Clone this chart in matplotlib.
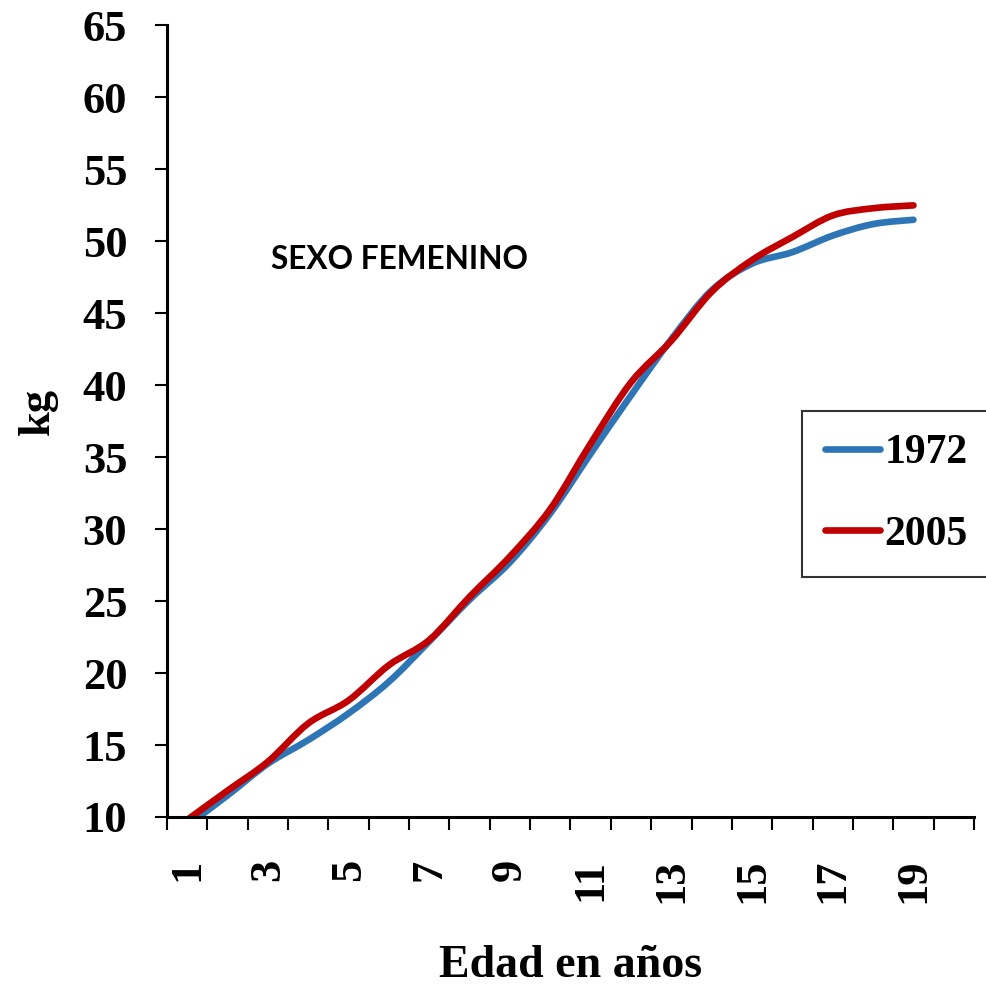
import numpy as np
import matplotlib
matplotlib.use("Agg")
import matplotlib.pyplot as plt
from matplotlib.path import Path
from matplotlib.patches import PathPatch
from matplotlib.lines import Line2D

# datos: peso promedio (kg) por edad, sexo femenino
edades = list(range(1, 20))
categorias = list(range(1, 21))
peso_1972 = [9.4, 11.5, 13.7, 15.35, 17.2, 19.4, 22.2, 25.1, 27.7, 31.1,
             35.25, 39.3, 43.2, 46.6, 48.45, 49.25, 50.4, 51.2, 51.5]
peso_2005 = [9.8, 11.83, 13.84, 16.5, 18.1, 20.55, 22.3, 25.3, 28.1, 31.4,
             35.95, 40.2, 43.1, 46.5, 48.7, 50.3, 51.8, 52.3, 52.5]
series = ["1972", "2005"]
colores = ["#2E75B6", "#C00000"]

SERIF = "Liberation Serif"


# linea suavizada tipo Excel (Bezier por Catmull-Rom)
def curva_suave(xs, ys):
    pts = np.column_stack([xs, ys]).astype(float)
    n = len(pts)
    verts = [pts[0]]
    codes = [Path.MOVETO]
    for i in range(n - 1):
        p0 = pts[i - 1] if i > 0 else pts[i]
        p1 = pts[i]
        p2 = pts[i + 1]
        p3 = pts[i + 2] if i + 2 < n else pts[i + 1]
        verts += [p1 + (p2 - p0) / 6, p2 - (p3 - p1) / 6, p2]
        codes += [Path.CURVE4] * 3
    return Path(verts, codes)


fig = plt.figure(figsize=(9.87, 9.88), dpi=100)
ax = fig.add_axes([0.1692, 0.1731, 0.8176, 0.8011])

handles = []
for nombre, datos, col in zip(series, [peso_1972, peso_2005], colores):
    ax.add_patch(PathPatch(curva_suave(edades, datos), fill=False, edgecolor=col,
                           lw=4.8, capstyle="round", joinstyle="round"))
    handles.append(Line2D([], [], color=col, lw=4.8, solid_capstyle="round"))

ax.set_xlim(0.5, len(categorias) + 0.5)
ax.set_ylim(10, 65)
ax.set_yticks(range(10, 66, 5))
ax.set_xticks(categorias[::2])
ax.set_xticklabels([str(c) for c in categorias[::2]], rotation=90)
ax.set_xticks(np.arange(0.5, len(categorias) + 1, 1), minor=True)

for s in ["top", "right"]:
    ax.spines[s].set_visible(False)
for s in ["left", "bottom"]:
    ax.spines[s].set_linewidth(2.2)

ax.tick_params(axis="y", direction="out", length=8.6, width=1.5, pad=20)
ax.tick_params(axis="x", which="major", length=0, pad=30)
ax.tick_params(axis="x", which="minor", direction="out", length=9.4, width=1.5)
for lab in ax.get_xticklabels() + ax.get_yticklabels():
    lab.set_fontfamily(SERIF)
    lab.set_fontweight("bold")
    lab.set_fontsize(32)

ax.set_xlabel("Edad en años", fontfamily=SERIF, fontweight="bold", fontsize=33,
              va="baseline")
ax.xaxis.set_label_coords(0.5, -0.202)
ax.set_ylabel("kg", fontfamily=SERIF, fontweight="bold", fontsize=32, va="center")
ax.yaxis.set_label_coords(-0.16, 0.512)

ax.text(0.1294, 0.692, "SEXO FEMENINO", transform=ax.transAxes, fontfamily="Lato",
        fontweight="bold", fontsize=22.8, va="baseline", ha="left")

leg = ax.legend(handles, series, loc="upper left", bbox_to_anchor=(801.7 / 987, 1 - 411 / 988),
                bbox_transform=fig.transFigure, borderaxespad=0, frameon=True, fancybox=False,
                prop={"family": SERIF, "weight": "bold", "size": 30},
                handlelength=1.34, handletextpad=0.1, labelspacing=1.04, borderpad=0.55)
leg.get_frame().set_edgecolor("black")
leg.get_frame().set_linewidth(1.5)

fig.savefig("out.png", dpi=100)
